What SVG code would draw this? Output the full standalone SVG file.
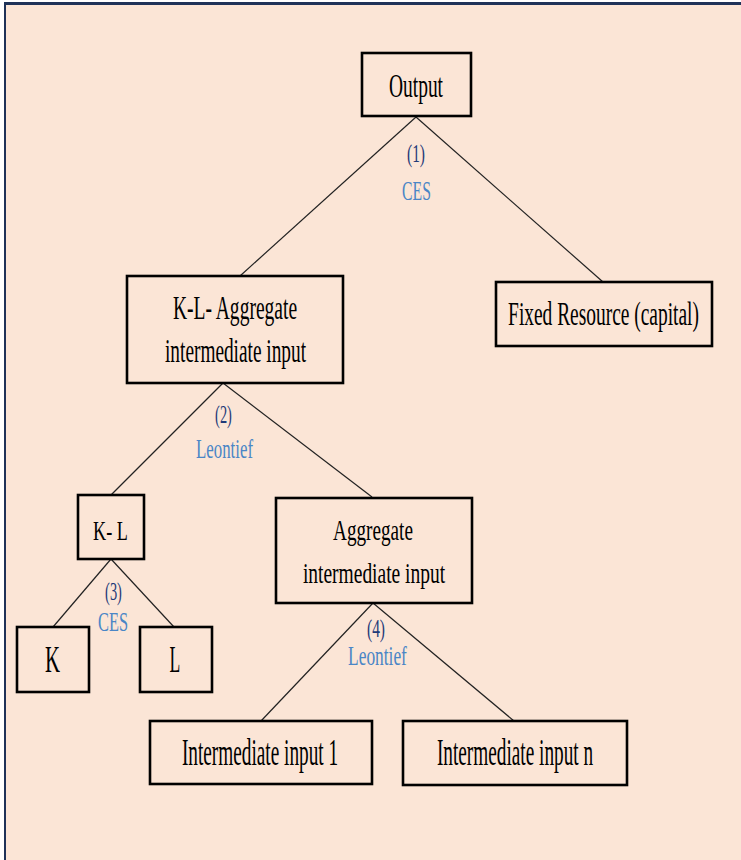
<svg xmlns="http://www.w3.org/2000/svg" width="741" height="860" viewBox="0 0 741 860">
<style>
.box{fill:#FBE5D6;stroke:#000;stroke-width:2.6}
.t{font-family:"Liberation Serif","Times New Roman",serif;fill:#000;text-anchor:middle}
.n{font-family:"Liberation Serif","Times New Roman",serif;fill:#1F3A78;text-anchor:middle;font-size:26px}
.f{font-family:"Liberation Serif","Times New Roman",serif;fill:#4A86C6;text-anchor:middle;font-size:27px}
.c line{stroke:#222;stroke-width:1.2}
</style>
<rect x="0" y="0" width="741" height="860" fill="#FFFFFF"/>
<rect x="5" y="3" width="736" height="857" fill="#FBE5D6"/>
<line x1="4" y1="3.5" x2="741" y2="3.5" stroke="#1F3258" stroke-width="3"/>
<line x1="5" y1="2" x2="5" y2="860" stroke="#1F3258" stroke-width="2"/>
<g class="c" id="connectors">
<line x1="416" y1="117" x2="240" y2="276"/>
<line x1="416" y1="117" x2="603" y2="282"/>
<line x1="223" y1="383" x2="111" y2="495"/>
<line x1="223" y1="383" x2="372" y2="497"/>
<line x1="111" y1="559" x2="53" y2="627"/>
<line x1="111" y1="559" x2="174" y2="627"/>
<line x1="373" y1="603" x2="261" y2="721"/>
<line x1="373" y1="603" x2="514" y2="721"/>
</g>
<g id="labels">
<text class="n" transform="translate(416,162) scale(0.6,1)" textLength="30" lengthAdjust="spacingAndGlyphs">(1)</text>
<text class="f" transform="translate(416.5,200) scale(0.6,1)" textLength="48" lengthAdjust="spacingAndGlyphs">CES</text>
<text class="n" transform="translate(223.5,423) scale(0.6,1)" textLength="28" lengthAdjust="spacingAndGlyphs">(2)</text>
<text class="f" transform="translate(224.5,458) scale(0.6,1)" textLength="95" lengthAdjust="spacingAndGlyphs">Leontief</text>
<text class="n" transform="translate(113.5,600) scale(0.6,1)" font-size="25" textLength="28" lengthAdjust="spacingAndGlyphs">(3)</text>
<text class="f" transform="translate(113,631) scale(0.6,1)" font-size="26" textLength="50" lengthAdjust="spacingAndGlyphs">CES</text>
<text class="n" transform="translate(376,637) scale(0.6,1)" font-size="25" textLength="30" lengthAdjust="spacingAndGlyphs">(4)</text>
<text class="f" transform="translate(377.5,665) scale(0.6,1)" textLength="98" lengthAdjust="spacingAndGlyphs">Leontief</text>
</g>
<g id="output">
<rect class="box" x="362" y="53" width="109" height="63"/>
<text class="t" transform="translate(416,97) scale(0.6,1)" font-size="33" textLength="90" lengthAdjust="spacingAndGlyphs">Output</text>
</g>
<g id="kl-aggregate">
<rect class="box" x="127" y="276" width="216" height="107"/>
<text class="t" transform="translate(235,319) scale(0.6,1)" font-size="33" textLength="207" lengthAdjust="spacingAndGlyphs">K-L- Aggregate</text>
<text class="t" transform="translate(235.5,362) scale(0.6,1)" font-size="33" textLength="235" lengthAdjust="spacingAndGlyphs">intermediate input</text>
</g>
<g id="fixed-resource">
<rect class="box" x="496" y="282" width="216" height="64"/>
<text class="t" transform="translate(603.5,325) scale(0.6,1)" font-size="33" textLength="318" lengthAdjust="spacingAndGlyphs">Fixed Resource (capital)</text>
</g>
<g id="kl">
<rect class="box" x="78" y="495" width="66" height="64"/>
<text class="t" transform="translate(110.5,540) scale(0.6,1)" font-size="28" textLength="58" lengthAdjust="spacingAndGlyphs">K- L</text>
</g>
<g id="aggregate">
<rect class="box" x="276" y="498" width="196" height="105"/>
<text class="t" transform="translate(373,540) scale(0.6,1)" font-size="30" textLength="133" lengthAdjust="spacingAndGlyphs">Aggregate</text>
<text class="t" transform="translate(374,583) scale(0.6,1)" font-size="30" textLength="237" lengthAdjust="spacingAndGlyphs">intermediate input</text>
</g>
<g id="k">
<rect class="box" x="17" y="627" width="72" height="65"/>
<text class="t" transform="translate(52.5,672) scale(0.6,1)" font-size="37" textLength="25" lengthAdjust="spacingAndGlyphs">K</text>
</g>
<g id="l">
<rect class="box" x="140" y="627" width="72" height="65"/>
<text class="t" transform="translate(175,672) scale(0.6,1)" font-size="37" textLength="18" lengthAdjust="spacingAndGlyphs">L</text>
</g>
<g id="int1">
<rect class="box" x="150" y="721" width="222" height="63"/>
<text class="t" transform="translate(260,765) scale(0.55,1)" font-size="37" textLength="284" lengthAdjust="spacingAndGlyphs">Intermediate input 1</text>
</g>
<g id="intn">
<rect class="box" x="403" y="721" width="224" height="64"/>
<text class="t" transform="translate(515,765) scale(0.55,1)" font-size="37" textLength="284" lengthAdjust="spacingAndGlyphs">Intermediate input n</text>
</g>
</svg>
